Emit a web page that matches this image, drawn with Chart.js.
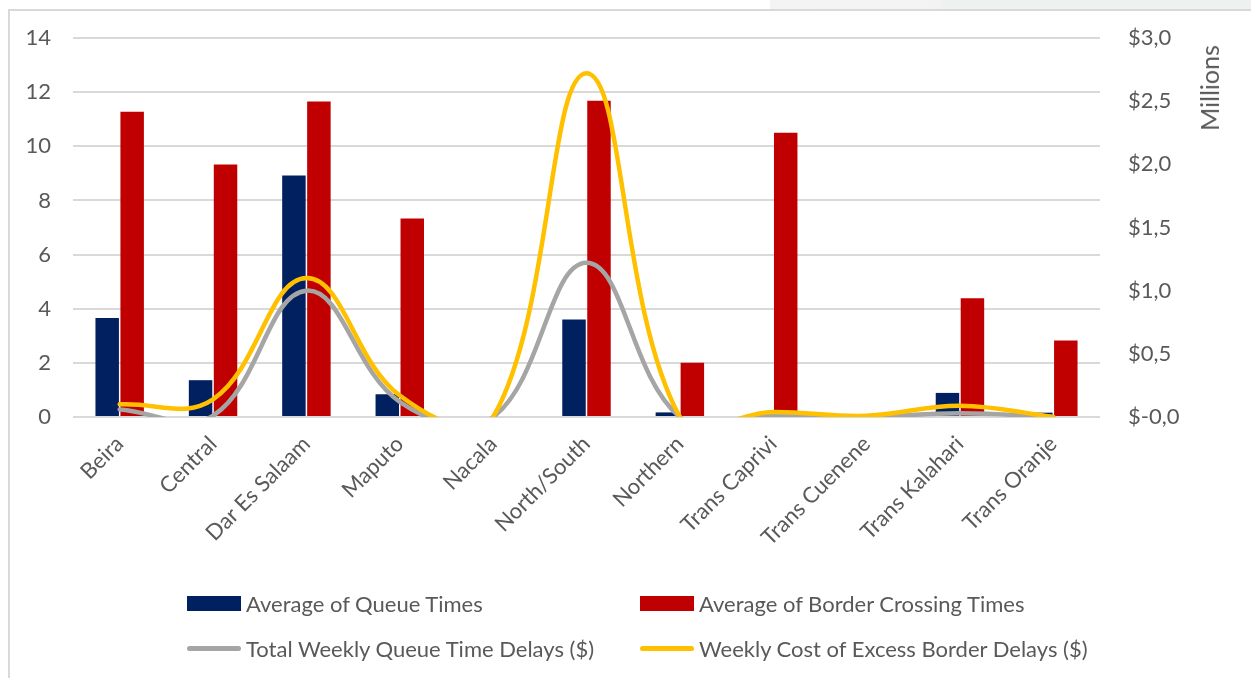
<!DOCTYPE html>
<html>
<head>
<meta charset="utf-8">
<script src="https://cdn.jsdelivr.net/npm/chart.js@4/dist/chart.umd.min.js"></script>
<style>
  html, body { margin: 0; padding: 0; background: #ffffff; }
  body { width: 1251px; height: 678px; overflow: hidden; position: relative; font-family: Lato, "Open Sans", sans-serif; }
  .topstrip { position: absolute; left: 770px; top: 0; width: 481px; height: 9px;
              background: linear-gradient(90deg, #f4f4f4 0%, #f3f3f3 35%, #eff1f0 36%, #eff1f0 100%); }
  .frame { position: absolute; left: 8px; top: 9px; width: 1400px; height: 800px; border: 2px solid #d9d9d9; box-sizing: border-box; }
  #wrap { position: absolute; left: 0; top: 0; width: 1251px; height: 678px; }
  .axis-title { position: absolute; left: 1209px; top: 88px; transform: translate(-50%, -50%) rotate(-90deg);
                color: #595959; font-size: 25px; white-space: nowrap; }
  .legend-item { position: absolute; display: flex; align-items: center; color: #595959; font-size: 22px; white-space: nowrap; }
  .legend-item .sw { display: inline-block; margin-right: 5px; }
</style>
</head>
<body>
<div class="topstrip"></div>
<div class="frame"></div>
<div id="wrap"><canvas id="chart"></canvas></div>
<div class="axis-title">Millions</div>
<div id="legend"></div>
<script>
// Border corridors / posts
const categories = ['Beira', 'Central', 'Dar Es Salaam', 'Maputo', 'Nacala', 'North/South',
                    'Northern', 'Trans Caprivi', 'Trans Cuenene', 'Trans Kalahari', 'Trans Oranje'];

// Average times (left axis)
const queueTimes  = [3.66, 1.36, 8.92, 0.84, 0, 3.60, 0.17, 0, 0, 0.89, 0.16];
const borderTimes = [11.28, 9.33, 11.65, 7.33, 0, 11.68, 2.00, 10.50, 0, 4.39, 2.83];

// Weekly costs in millions of dollars (right axis)
const queueDelayCostM  = [0.06, 0.01, 1.00, 0.12, 0, 1.22, 0, 0.01, 0, 0.03, 0];
const excessDelayCostM = [0.10, 0.14, 1.10, 0.17, 0, 2.72, 0, 0.04, 0.01, 0.09, 0];

// Axis tick labels
const leftTicks  = [0, 2, 4, 6, 8, 10, 12, 14];
const rightTicks = ['$-0,0', '$0,5', '$1,0', '$1,5', '$2,0', '$2,5', '$3,0'];

const seriesNames = ['Average of Queue Times', 'Average of Border Crossing Times',
                     'Total Weekly Queue Time Delays ($)', 'Weekly Cost of Excess Border Delays ($)'];
const seriesColors = ['#002060', '#C00000', '#A5A5A5', '#FFC000'];

const FONT = 'Lato';
const TEXT = '#595959';

// Fixed axis sizes; the label gap should not also inflate the top/bottom padding
const fixVertical = width => s => { s.width = width; s.paddingTop = 10; s.paddingBottom = 10; };

const chart = new Chart(document.getElementById('chart'), {
  type: 'bar',
  data: {
    labels: categories,
    datasets: [
      { type: 'bar', label: seriesNames[0], data: queueTimes, backgroundColor: seriesColors[0],
        yAxisID: 'y', order: 3, categoryPercentage: 0.535, barPercentage: 0.94 },
      { type: 'bar', label: seriesNames[1], data: borderTimes, backgroundColor: seriesColors[1],
        yAxisID: 'y', order: 3, categoryPercentage: 0.535, barPercentage: 0.94 },
      { type: 'line', label: seriesNames[2], data: queueDelayCostM, borderColor: seriesColors[2],
        borderWidth: 4.5, pointRadius: 0, tension: 0.4, yAxisID: 'y1', order: 1,
        borderCapStyle: 'round', borderJoinStyle: 'round' },
      { type: 'line', label: seriesNames[3], data: excessDelayCostM, borderColor: seriesColors[3],
        borderWidth: 4.5, pointRadius: 0, tension: 0.4, yAxisID: 'y1', order: 0,
        borderCapStyle: 'round', borderJoinStyle: 'round' }
    ]
  },
  options: {
    responsive: true,
    maintainAspectRatio: false,
    animation: false,
    elements: { line: { capBezierPoints: false } },
    layout: { padding: { top: 38, left: 0, right: 0, bottom: 0 } },
    plugins: { legend: { display: false }, tooltip: { enabled: false } },
    scales: {
      x: {
        grid: { display: false, drawTicks: false },
        border: { display: false },
        ticks: { color: TEXT, font: { family: FONT, size: 22 }, minRotation: 45, maxRotation: 45,
                 autoSkip: false, padding: 14 },
        afterFit: s => { s.height = 261; }
      },
      y: {
        position: 'left', min: leftTicks[0], max: leftTicks[leftTicks.length - 1],
        grid: { color: '#d9d9d9', lineWidth: 2, drawTicks: false },
        border: { display: false },
        ticks: { stepSize: leftTicks[1] - leftTicks[0], color: TEXT, font: { family: FONT, size: 22 }, padding: 22 },
        afterFit: fixVertical(73)
      },
      y1: {
        position: 'right', min: 0, max: 3,
        grid: { display: false, drawOnChartArea: false, drawTicks: false },
        border: { display: false },
        ticks: { stepSize: 0.5, color: TEXT, font: { family: FONT, size: 22 }, padding: 28,
                 callback: (v, i) => rightTicks[i] },
        afterFit: fixVertical(151)
      }
    }
  }
});

// Two-column legend under the plot, built from the datasets
const legendSpots = [
  { x: 187, y: 603 }, { x: 640, y: 603 },
  { x: 187, y: 648 }, { x: 640, y: 648 }
];
const legend = document.getElementById('legend');
chart.data.datasets.forEach((ds, i) => {
  const item = document.createElement('div');
  item.className = 'legend-item';
  item.style.left = legendSpots[i].x + 'px';
  item.style.top = (legendSpots[i].y - 15) + 'px';
  item.style.height = '30px';
  const sw = document.createElement('span');
  sw.className = 'sw';
  if (ds.type === 'bar') {
    sw.style.width = '54px'; sw.style.height = '15px'; sw.style.background = ds.backgroundColor;
  } else {
    sw.style.width = '54px'; sw.style.height = '5px'; sw.style.borderRadius = '3px'; sw.style.background = ds.borderColor;
  }
  const tx = document.createElement('span');
  tx.textContent = ds.label;
  item.appendChild(sw);
  item.appendChild(tx);
  legend.appendChild(item);
});
</script>
</body>
</html>
